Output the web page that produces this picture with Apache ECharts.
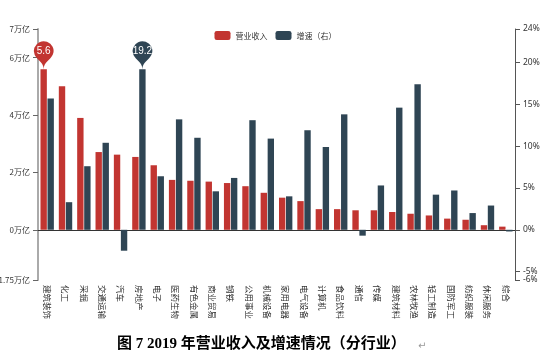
<!DOCTYPE html>
<html><head><meta charset="utf-8">
<script src="https://cdn.jsdelivr.net/npm/echarts@6/dist/echarts.min.js"></script>
<style>html,body{margin:0;padding:0;background:#fff;}#c{width:551px;height:358px;}</style>
</head><body><div id="c"></div>
<script>
var categories = ['建筑装饰','化工','采掘','交通运输','汽车','房地产','电子','医药生物','有色金属','商业贸易','钢铁','公用事业','机械设备','家用电器','电气设备','计算机','食品饮料','通信','传媒','建筑材料','农林牧渔','轻工制造','国防军工','纺织服装','休闲服务','综合'];
var revenue = [5.6,5.0,3.9,2.71,2.62,2.54,2.25,1.74,1.71,1.68,1.63,1.52,1.29,1.12,1.0,0.72,0.72,0.68,0.68,0.62,0.56,0.50,0.39,0.35,0.16,0.11];
var growth = [15.7,3.3,7.6,10.4,-2.5,19.2,6.4,13.2,11.0,4.6,6.2,13.1,10.9,4.0,11.9,9.9,13.8,-0.7,5.3,14.6,17.4,4.2,4.7,2.0,2.9,-0.2];
var leftTicks = [-1.75,0,2,4,6,7];
var rightTicks = [-6,-5,0,5,10,15,20,24];
var rightLabels = [-5,0,5,10,15,20,24];
var rightMinLabel = [-6];
var seriesNames = ['营业收入','增速（右）'];
var titleText = '图 7 2019 年营业收入及增速情况（分行业）';

var chart = echarts.init(document.getElementById('c'));
var pctFmt = function(v){return v+'%';};
chart.setOption({
  animation:false,
  color:['#c23531','#2f4554'],
  legend:{top:26,left:'center',itemWidth:16,itemHeight:9,itemGap:8,
    textStyle:{fontSize:8,color:'#333',fontFamily:'Noto Sans CJK SC'},data:seriesNames},
  grid:{left:38,right:36,top:29,bottom:78,containLabel:false,outerBoundsMode:'none'},
  xAxis:{type:'category',data:categories,
    axisLine:{onZero:true,lineStyle:{color:'#333'}},
    axisTick:{lineStyle:{color:'#333'}},
    axisLabel:{rotate:-90,margin:5,fontSize:8.5,color:'#333',interval:0,fontFamily:'Noto Sans CJK SC'}},
  yAxis:[
    {type:'value',min:-1.75,max:7,splitLine:{show:false},
      axisLine:{show:true,lineStyle:{color:'#aaa',width:2}},
      axisTick:{show:true,customValues:leftTicks,lineStyle:{color:'#666'}},
      axisLabel:{customValues:leftTicks,fontSize:8,color:'#333',fontFamily:'Noto Sans CJK SC',
        formatter:function(v){return v+'万亿';}}},
    {type:'value',min:-6,max:24,splitLine:{show:false},
      axisLine:{show:true,lineStyle:{color:'#555'}},
      axisTick:{show:true,customValues:rightTicks,lineStyle:{color:'#555'}},
      axisLabel:{customValues:rightLabels,fontSize:8.5,color:'#333',fontFamily:'Noto Sans',formatter:pctFmt}},
    {type:'value',min:-6,max:24,position:'right',splitLine:{show:false},
      axisLine:{show:false},axisTick:{show:false},
      axisLabel:{customValues:rightMinLabel,fontSize:8.5,color:'#333',fontFamily:'Noto Sans',formatter:pctFmt}}
  ],
  series:[
    {name:seriesNames[0],type:'bar',data:revenue,yAxisIndex:0,
      markPoint:{symbol:'pin',symbolSize:[33,32],
        label:{fontSize:10,color:'#fff',offset:[0,-1]},data:[{type:'max'}]}},
    {name:seriesNames[1],type:'bar',data:growth,yAxisIndex:1,
      markPoint:{symbol:'pin',symbolSize:[33,32],
        label:{fontSize:10,color:'#fff',offset:[0,-1]},data:[{type:'max'}]}}
  ],
  graphic:[{type:'text',left:117,top:337,
    style:{text:titleText,font:'bold 15px "Liberation Serif","Noto Sans CJK SC"',fill:'#000'}},
    {type:'text',left:418,top:341,style:{text:'↵',font:'10px "DejaVu Sans"',fill:'#999'}}]
});
</script></body></html>
